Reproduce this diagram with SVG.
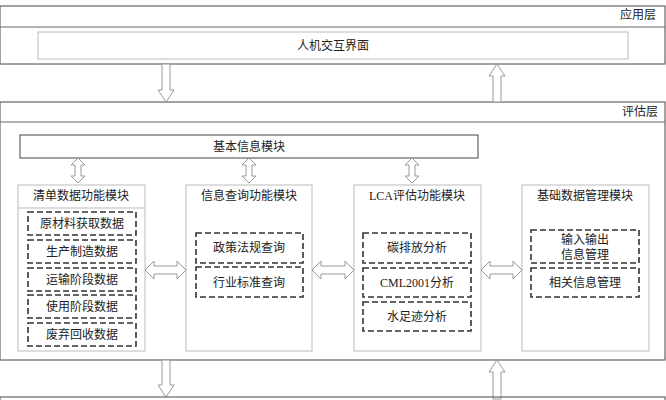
<svg xmlns="http://www.w3.org/2000/svg" width="666" height="400" viewBox="0 0 666 400">
<style>
text{font-family:"Liberation Serif","Noto Sans CJK SC",serif;font-size:12px;fill:#222;text-anchor:middle}
.layer{fill:none;stroke:#666;stroke-width:1.2}
.box{fill:#fff;stroke:#bbb;stroke-width:1}
.dash{fill:#fff;stroke:#333;stroke-width:1.6;stroke-dasharray:6,3}
.arr{fill:#fff;stroke:#999;stroke-width:1}
</style>
<g id="app-layer">
<rect class="layer" x="0" y="6" width="665" height="58"/>
<line class="layer" x1="0" y1="27" x2="665" y2="27"/>
<text x="638" y="19">应用层</text>
<rect x="38" y="32" width="590" height="27" fill="#fff" stroke="#bbb"/>
<text x="333" y="50">人机交互界面</text>
</g>
<g id="eval-layer">
<rect class="layer" x="0" y="102" width="665" height="258"/>
<line class="layer" x1="0" y1="122" x2="665" y2="122"/>
<text x="640" y="116">评估层</text>
</g>
<g id="basic-info">
<rect x="20" y="135" width="458" height="23" fill="#fff" stroke="#444"/>
<text x="249" y="151">基本信息模块</text>
</g>
<g id="list-module">
<rect class="box" x="18" y="185" width="127" height="166"/>
<line x1="18" y1="208" x2="145" y2="208" stroke="#bbb"/>
<text x="81" y="200">清单数据功能模块</text>
<rect class="dash" x="28" y="212" width="108" height="23"/><text x="82" y="228">原材料获取数据</text>
<rect class="dash" x="28" y="240" width="108" height="23"/><text x="82" y="256">生产制造数据</text>
<rect class="dash" x="28" y="268" width="108" height="23"/><text x="82" y="284">运输阶段数据</text>
<rect class="dash" x="28" y="295" width="108" height="23"/><text x="82" y="311">使用阶段数据</text>
<rect class="dash" x="28" y="323" width="108" height="23"/><text x="82" y="339">废弃回收数据</text>
</g>
<g id="query-module">
<rect class="box" x="186" y="185" width="126" height="166"/>
<text x="249" y="200">信息查询功能模块</text>
<rect class="dash" x="196" y="233" width="107" height="30"/><text x="249" y="252">政策法规查询</text>
<rect class="dash" x="196" y="267" width="107" height="30"/><text x="249" y="287">行业标准查询</text>
</g>
<g id="lca-module">
<rect class="box" x="354" y="185" width="127" height="166"/>
<text x="417" y="200">LCA评估功能模块</text>
<rect class="dash" x="363" y="233" width="108" height="30"/><text x="417" y="252">碳排放分析</text>
<rect class="dash" x="363" y="268" width="108" height="29"/><text x="417" y="287">CML2001分析</text>
<rect class="dash" x="363" y="302" width="108" height="29"/><text x="417" y="321">水足迹分析</text>
</g>
<g id="base-module">
<rect class="box" x="522" y="185" width="127" height="166"/>
<text x="585" y="200">基础数据管理模块</text>
<rect class="dash" x="531" y="230" width="108" height="33"/><text x="585" y="244">输入输出</text><text x="585" y="259">信息管理</text>
<rect class="dash" x="531" y="268" width="108" height="29"/><text x="585" y="287">相关信息管理</text>
</g>
<g id="connectors">
<path class="arr" d="M162 64 V90 H158 L166 102 L174 90 H170 V64 Z"/>
<path class="arr" d="M493 102 V76 H489 L497 64 L505 76 H501 V102 Z"/>
<path class="arr" d="M162 360 V385 H158 L166 397 L174 385 H170 V360 Z"/>
<path class="arr" d="M493 399 V372 H489 L497 360 L505 372 H501 V399 Z"/>
<path class="arr" d="M78 158 L85 165 H81 V176 H85 L78 183 L71 176 H75 V165 H71 Z"/>
<path class="arr" d="M249 158 L256 165 H252 V176 H256 L249 183 L242 176 H246 V165 H242 Z"/>
<path class="arr" d="M412 158 L419 165 H415 V176 H419 L412 183 L405 176 H409 V165 H405 Z"/>
<path class="arr" d="M145 270 L154 261 V266 H177 V261 L186 270 L177 279 V274 H154 V279 Z"/>
<path class="arr" d="M312 270 L321 261 V266 H345 V261 L354 270 L345 279 V274 H321 V279 Z"/>
<path class="arr" d="M481 270 L490 261 V266 H513 V261 L522 270 L513 279 V274 H490 V279 Z"/>
</g>
<g id="bottom-layer">
<rect class="layer" x="0" y="397" width="665" height="10"/>
</g>
</svg>
